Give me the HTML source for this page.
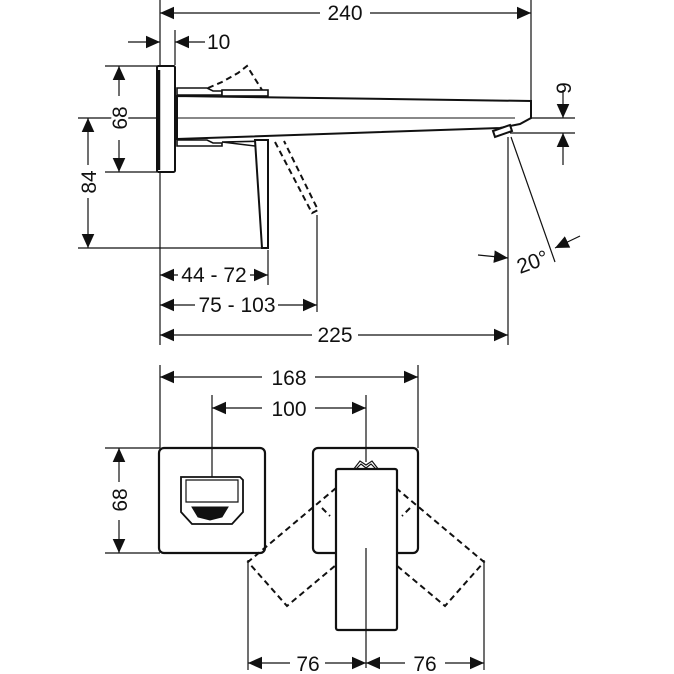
<!DOCTYPE html>
<html><head><style>html,body{margin:0;padding:0;background:#fff}svg{display:block}text{font-family:"Liberation Sans",sans-serif;font-size:21px;fill:#111}</style></head><body>
<svg width="674" height="674" viewBox="0 0 674 674" xmlns="http://www.w3.org/2000/svg">
<defs>
<marker id="a" viewBox="0 0 10 10" refX="10" refY="5" markerWidth="14" markerHeight="14" markerUnits="userSpaceOnUse" orient="auto-start-reverse"><path d="M0,0.5 L10,5 L0,9.5z" fill="#111"/></marker>
</defs>
<g stroke="#111" stroke-width="1.2" fill="none">
<line x1="160" y1="0" x2="160" y2="345"/>
<line x1="531" y1="0" x2="531" y2="100"/>
<line x1="175" y1="30" x2="175" y2="65"/>
<line x1="105" y1="66" x2="157" y2="66"/>
<line x1="105" y1="172" x2="157" y2="172"/>
<line x1="78" y1="118" x2="157" y2="118"/>
<line x1="78" y1="248" x2="262" y2="248"/>
<line x1="510" y1="118" x2="575" y2="118"/>
<line x1="510" y1="133" x2="575" y2="133"/>
<line x1="268" y1="250" x2="268" y2="285"/>
<line x1="317" y1="215" x2="317" y2="312"/>
<line x1="508" y1="137" x2="508" y2="345"/>
<line x1="511" y1="137" x2="555" y2="262"/>
<line x1="160" y1="13" x2="320" y2="13" marker-start="url(#a)"/>
<line x1="370" y1="13" x2="531" y2="13" marker-end="url(#a)"/>
<line x1="128" y1="42" x2="160" y2="42" marker-end="url(#a)"/>
<line x1="205" y1="42" x2="175" y2="42" marker-end="url(#a)"/>
<line x1="119" y1="96" x2="119" y2="66" marker-end="url(#a)"/>
<line x1="119" y1="140" x2="119" y2="172" marker-end="url(#a)"/>
<line x1="88" y1="165" x2="88" y2="118" marker-end="url(#a)"/>
<line x1="88" y1="198" x2="88" y2="248" marker-end="url(#a)"/>
<line x1="563" y1="90" x2="563" y2="118" marker-end="url(#a)"/>
<line x1="563" y1="165" x2="563" y2="133" marker-end="url(#a)"/>
<line x1="478" y1="255" x2="508" y2="258" marker-end="url(#a)"/>
<line x1="580" y1="236" x2="555" y2="248" marker-end="url(#a)"/>
<line x1="160" y1="275" x2="178" y2="275" marker-start="url(#a)"/>
<line x1="250" y1="275" x2="268" y2="275" marker-end="url(#a)"/>
<line x1="160" y1="305" x2="195" y2="305" marker-start="url(#a)"/>
<line x1="278" y1="305" x2="317" y2="305" marker-end="url(#a)"/>
<line x1="160" y1="335" x2="312" y2="335" marker-start="url(#a)"/>
<line x1="358" y1="335" x2="508" y2="335" marker-end="url(#a)"/>
</g>
<g stroke="#111" stroke-width="2" fill="#fff">
<rect x="157" y="66" width="18" height="106" rx="1.5"/>
<line x1="159" y1="70" x2="159" y2="170" stroke-width="2.5"/>
<path d="M177,88 L207,88 L213,91 L222,91 L222,95 L177,95z" stroke-width="1.6"/>
<rect x="222" y="90" width="46" height="6" stroke-width="1.6"/>
<path d="M177,140 L207,140 L213,143 L222,143 L222,146 L177,146z" stroke-width="1.6"/>
<path d="M177,96 L531,101 L531,118 L520,124 L500,128 L177,139z"/>
<line x1="177" y1="118" x2="515" y2="118" stroke-width="1"/>
<path d="M493,131 L510,125 L512,131 L495,137z"/>
<path d="M222,142 L268,141 L268,146 L255,146z" stroke-width="1.6"/>
<path d="M255,140 L268,140 L268,248 L262,248z"/>
</g>
<g stroke="#111" stroke-width="2" fill="none" stroke-dasharray="6,4">
<path d="M208,88 L222,82 L238,73 L247,66 L262,90"/>
<path d="M275,142 L312,213 L318,210 L284,141"/>
</g>
<text x="345" y="20" text-anchor="middle" stroke="#fff" stroke-width="10" style="paint-order:stroke">240</text>
<text x="207" y="49">10</text>
<text transform="translate(127,118) rotate(-90)" text-anchor="middle" stroke="#fff" stroke-width="6" style="paint-order:stroke">68</text>
<text transform="translate(96,182) rotate(-90)" text-anchor="middle" stroke="#fff" stroke-width="6" style="paint-order:stroke">84</text>
<text transform="translate(571,88) rotate(-90)" text-anchor="middle">9</text>
<text transform="translate(520,274) rotate(-20)">20°</text>
<text x="214" y="282" text-anchor="middle">44 - 72</text>
<text x="237" y="312" text-anchor="middle">75 - 103</text>
<text x="335" y="342" text-anchor="middle">225</text>
<g stroke="#111" stroke-width="1.2" fill="none">
<line x1="160" y1="365" x2="160" y2="448"/>
<line x1="418" y1="365" x2="418" y2="448"/>
<line x1="212" y1="395" x2="212" y2="477"/>
<line x1="366" y1="395" x2="366" y2="462"/>
<line x1="105" y1="448" x2="160" y2="448"/>
<line x1="105" y1="553" x2="160" y2="553"/>
<line x1="248" y1="560" x2="248" y2="670"/>
<line x1="484" y1="560" x2="484" y2="670"/>
<line x1="160" y1="377" x2="262" y2="377" marker-start="url(#a)"/>
<line x1="315" y1="377" x2="418" y2="377" marker-end="url(#a)"/>
<line x1="212" y1="408" x2="262" y2="408" marker-start="url(#a)"/>
<line x1="315" y1="408" x2="366" y2="408" marker-end="url(#a)"/>
<line x1="119" y1="482" x2="119" y2="448" marker-end="url(#a)"/>
<line x1="119" y1="520" x2="119" y2="553" marker-end="url(#a)"/>
<line x1="248" y1="663" x2="290" y2="663" marker-start="url(#a)"/>
<line x1="325" y1="663" x2="366" y2="663" marker-end="url(#a)"/>
<line x1="366" y1="663" x2="405" y2="663" marker-start="url(#a)"/>
<line x1="445" y1="663" x2="484" y2="663" marker-end="url(#a)"/>
</g>
<g stroke="#111" stroke-width="2.2" fill="none">
<rect x="159" y="448" width="106" height="105" rx="5"/>
<rect x="313" y="448" width="105" height="105" rx="5"/>
<path d="M181,477 L240,477 L243,480 L243,512 L232,524 L192,524 L181,512 L181,480z" stroke-width="1.8"/>
<path d="M186,480 L238,480 L238,502 L186,502z" stroke-width="1.2"/>
<path d="M192,507 L228,507 L222,517 L210,520 L198,517z" fill="#111" stroke-width="1"/>
<path d="M355,470 L361,464 L366,468 L371,464 L377,470" stroke-width="1.2"/>
<path d="M353,470 L360,461 L366,465 L372,461 L379,470" stroke-width="1.2"/>
</g>
<g stroke="#111" stroke-width="2" fill="none" stroke-dasharray="6,4">
<path d="M336,488 L248,562 L287,606 L336,565"/>
<path d="M322,508 L330,516"/>
<path d="M396,488 L484,562 L445,606 L396,565"/>
<path d="M410,508 L402,516"/>
</g>
<rect x="336" y="469" width="61" height="161" rx="2" fill="#fff" stroke="#111" stroke-width="2.2"/>
<line x1="366" y1="548" x2="366" y2="668" stroke="#111" stroke-width="1.2"/>
<text x="289" y="385" text-anchor="middle">168</text>
<text x="289" y="416" text-anchor="middle">100</text>
<text transform="translate(127,500) rotate(-90)" text-anchor="middle">68</text>
<text x="308" y="671" text-anchor="middle">76</text>
<text x="425" y="671" text-anchor="middle">76</text>
</svg>
</body></html>
